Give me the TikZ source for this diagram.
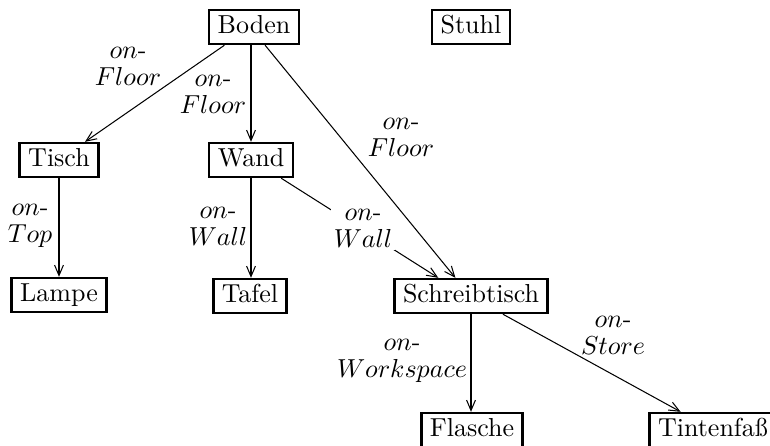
\documentclass[tikz,border=0pt]{standalone}
\usetikzlibrary{arrows.meta,calc}
\begin{document}
\begin{tikzpicture}[x=0.3846pt,y=-0.3846pt,
  obj/.style={draw,line width=1pt,inner xsep=3.3pt,inner ysep=2pt,
    text height=7pt,text depth=2pt},
  rel/.style={-{Straight Barb[length=4pt,width=3.4pt,line width=0.4pt]},line width=0.4pt},
  relb/.style={rel,line width=0.8pt},
  relw/.style={rel,line width=1.1pt},
  lab/.style={align=center,inner sep=1pt}]
\useasboundingbox (0,0) rectangle (770,445);

% objects
\node[obj] (boden)   at (254,27)  {Boden};
\node[obj] (stuhl)   at (471,27)  {Stuhl};
\node[obj] (tisch)   at (59,160)  {Tisch};
\node[obj] (wand)    at (251,160) {Wand};
\node[obj] (lampe)   at (59,295)  {Lampe};
\node[obj] (tafel)   at (250,296) {Tafel};
\node[obj] (schreib) at (471,296) {Schreibtisch};
\node[obj] (flasche) at (472,430) {Flasche};
\node[obj] (tinte)   at (713,430) {Tintenfaß};

% relations
\draw[rel] ($(boden.south west)!0.18!(boden.south east)$)
  -- ($(tisch.north west)!0.82!(tisch.north east)$);
\draw[relb] (wand.north |- boden.south) -- (wand.north);
\draw[rel] ($(boden.south west)!0.62!(boden.south east)$)
  -- ($(schreib.north west)!0.40!(schreib.north east)$);
\draw[relb] (tisch.south) -- (tisch.south |- lampe.north);
\draw[relb] (wand.south) -- (wand.south |- tafel.north);
\draw[rel] ($(wand.south west)!0.85!(wand.south east)$)
  -- ($(schreib.north west)!0.29!(schreib.north east)$);
\draw[relw] (schreib.south) -- (schreib.south |- flasche.north);
\draw[rel] ($(schreib.south west)!0.705!(schreib.south east)$)
  -- ($(tinte.north west)!0.25!(tinte.north east)$);

% relation labels
\node[lab] (l1) at (128,66)  {$on$-\\[-1.6pt]$Floor$};
\node[lab] (l2) at (213,94)  {$on$-\\[-1.6pt]$Floor$};
\node[lab] (l3) at (401,137) {$on$-\\[-1.6pt]$Floor$};
\node[lab] (l4) at (30,226)  {$on$-\\[-1.6pt]$Top$};
\node[lab] (l5) at (218,226) {$on$-\\[-1.6pt]$Wall$};
\node[lab,fill=white] (l6) at (363,228) {$on$-\\[-1.6pt]$Wall$};
\node[lab] (l7) at (402,361) {$on$-\\[-1.6pt]$Workspace$};
\node[lab] (l8) at (613,335) {$on$-\\[-1.6pt]$Store$};
\end{tikzpicture}
\end{document}
